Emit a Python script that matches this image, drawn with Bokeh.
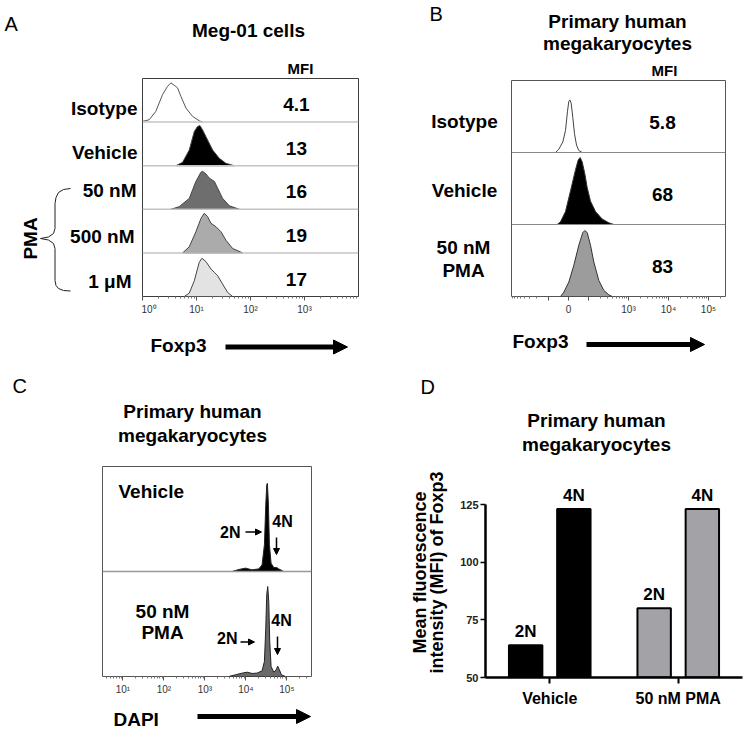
import math
from bokeh.plotting import figure
from bokeh.models import (Label, Arrow, NormalHead, Span, FixedTicker, Range1d)
from bokeh.layouts import column, row
from bokeh.core.properties import value
from bokeh.embed import file_html
from bokeh.resources import INLINE

FONT = "Liberation Sans"
MID = 0.35  # baseline -> visual middle, as a fraction of the font size

# ---------------- DATA ----------------
# Panel A (Meg-01 cells): Foxp3 histograms, x = log10 intensity, h = fraction of row height
a_rows = ["Isotype", "Vehicle", "50 nM", "500 nM", "1 μM"]
a_mfi = ["4.1", "13", "16", "19", "17"]
a_iso_x = [0.0, 0.124, 0.247, 0.371, 0.464, 0.526, 0.587, 0.649, 0.711, 0.804, 0.928, 1.051, 1.113]
a_iso_h = [0.015, 0.054, 0.246, 0.63, 0.82, 0.9, 0.846, 0.785, 0.592, 0.323, 0.13, 0.03, 0.0]
a_veh_x = [0.618, 0.742, 0.866, 0.959, 1.020, 1.064, 1.113, 1.206, 1.299, 1.422, 1.546, 1.701]
a_veh_h = [0.0, 0.077, 0.36, 0.785, 0.9, 0.92, 0.82, 0.59, 0.36, 0.17, 0.054, 0.0]
a_50_x = [0.526, 0.680, 0.866, 0.989, 1.082, 1.113, 1.175, 1.237, 1.330, 1.391, 1.484, 1.608, 1.793]
a_50_h = [0.0, 0.06, 0.25, 0.64, 0.85, 0.87, 0.81, 0.715, 0.64, 0.485, 0.25, 0.08, 0.0]
a_500_x = [0.742, 0.866, 0.989, 1.082, 1.144, 1.206, 1.268, 1.361, 1.453, 1.546, 1.670, 1.855]
a_500_h = [0.0, 0.14, 0.485, 0.79, 0.91, 0.83, 0.68, 0.6, 0.485, 0.29, 0.1, 0.0]
a_1u_x = [0.773, 0.866, 0.959, 1.051, 1.101, 1.175, 1.268, 1.330, 1.391, 1.484, 1.577, 1.670]
a_1u_h = [0.0, 0.077, 0.36, 0.785, 0.877, 0.8, 0.63, 0.554, 0.477, 0.285, 0.092, 0.0]

# Panel B (primary megakaryocytes): x = biexponential display position (decades), h = fraction of row
b_rows = ["Isotype", "Vehicle", "50 nM\nPMA"]
b_mfi = ["5.8", "68", "83"]
b_iso_x = [1.175, 1.258, 1.358, 1.425, 1.475, 1.508, 1.533, 1.567, 1.608, 1.65, 1.7, 1.758, 1.842]
b_iso_h = [0.0, 0.045, 0.148, 0.305, 0.574, 0.71, 0.73, 0.686, 0.484, 0.26, 0.103, 0.027, 0.0]
b_veh_x = [1.217, 1.3, 1.425, 1.55, 1.675, 1.742, 1.792, 1.842, 1.908, 1.967, 2.05, 2.175, 2.342, 2.508, 2.633]
b_veh_h = [0.0, 0.038, 0.18, 0.467, 0.76, 0.895, 0.93, 0.87, 0.705, 0.514, 0.324, 0.18, 0.076, 0.024, 0.0]
b_pma_x = [1.3, 1.383, 1.508, 1.633, 1.758, 1.858, 1.908, 1.967, 2.05, 2.133, 2.258, 2.383, 2.508, 2.592]
b_pma_h = [0.0, 0.06, 0.2, 0.433, 0.712, 0.888, 0.916, 0.888, 0.712, 0.479, 0.223, 0.084, 0.023, 0.0]
b_tick_pos = [1.0, 1.5, 2.0, 3.0, 4.0, 5.0]
b_tick_lab = ["", "0", "", "10³", "10⁴", "10⁵"]

# Panel C (DAPI): x = log10 intensity, h = fraction of row
c_veh_x = [3.663, 3.825, 3.988, 4.150, 4.313, 4.394, 4.451, 4.484, 4.508, 4.524, 4.549, 4.573, 4.614, 4.679, 4.75, 4.801, 4.923]
c_veh_h = [0.0, 0.019, 0.032, 0.016, 0.025, 0.063, 0.254, 0.635, 0.825, 0.84, 0.635, 0.254, 0.079, 0.038, 0.038, 0.025, 0.0]
c_pma_x = [3.581, 3.744, 3.907, 4.028, 4.150, 4.272, 4.394, 4.451, 4.484, 4.508, 4.532, 4.557, 4.581, 4.614, 4.679, 4.736, 4.776, 4.817, 4.866, 4.963]
c_pma_h = [0.0, 0.016, 0.032, 0.041, 0.029, 0.032, 0.054, 0.143, 0.46, 0.778, 0.857, 0.714, 0.333, 0.095, 0.041, 0.063, 0.098, 0.063, 0.016, 0.0]

# Panel D: MFI of Foxp3 by ploidy
d_groups = ["Vehicle", "50 nM PMA"]
d_ploidy = ["2N", "4N"]
d_vehicle = [64, 123]
d_pma = [80, 123]

# ---------------- HELPERS ----------------
def _lab(text, size, align, bold, angle):
    return dict(text=text, text_font=FONT, text_font_size=f"{size}px",
                text_font_style="bold" if bold else "normal", text_align=align,
                text_baseline="middle", angle=angle, text_color="black")

def tfig(x0, y0, x1, y1, fx=None, fy=None):
    """Plain strip for texts and arrows; data units = page pixels (y downwards)."""
    fl, fr = fx if fx else (x0, x1)
    ft, fb = fy if fy else (y0, y1)
    p = figure(width=x1 - x0, height=y1 - y0, x_range=Range1d(fl, fr), y_range=Range1d(fb, ft),
               x_axis_location=None, y_axis_location=None, output_backend="svg", toolbar_location=None,
               min_border=0, min_border_left=fl - x0, min_border_right=x1 - fr,
               min_border_top=ft - y0, min_border_bottom=y1 - fb)
    p.outline_line_color = None
    p.background_fill_color = "white"
    p.border_fill_color = "white"
    for g in p.grid:
        g.visible = False
    return p

def tput(p, wx, wy, text, size, align="left", bold=True, angle=0.0):
    """wy = text baseline (page px); for rotated text wx is the baseline."""
    if angle:
        wx = wx - MID * size
    else:
        wy = wy - MID * size
    p.add_layout(Label(x=wx, y=wy, x_units="data", y_units="data", **_lab(text, size, align, bold, angle)))

def tarrow(p, x0, y0, x1, y1, lw, head):
    p.add_layout(Arrow(x_start=x0, y_start=y0, x_end=x1, y_end=y1, line_width=lw, line_color="black",
                       end=NormalHead(size=head, fill_color="black", line_color="black", line_width=1)))

def put(p, frame, wx, wy, text, size, align="left", bold=True):
    fl, ft, fr, fb = frame
    p.add_layout(Label(x=wx - fl, y=fb - (wy - MID * size), x_units="screen", y_units="screen",
                       **_lab(text, size, align, bold, 0.0)))

def arrow(p, frame, x0, y0, x1, y1, lw, head):
    fl, ft, fr, fb = frame
    p.add_layout(Arrow(x_start=x0 - fl, y_start=fb - y0, x_end=x1 - fl, y_end=fb - y1,
                       start_units="screen", end_units="screen", line_width=lw, line_color="black",
                       end=NormalHead(size=head, fill_color="black", line_color="black", line_width=1)))

def hfig(x0, y0, x1, y1, frame, **kw):
    fl, ft, fr, fb = frame
    p = figure(width=x1 - x0, height=y1 - y0, output_backend="svg", toolbar_location=None,
               min_border_left=fl - x0, min_border_right=x1 - fr,
               min_border_top=ft - y0, min_border_bottom=y1 - fb, **kw)
    p.grid.visible = False
    p.background_fill_color = "white"
    p.border_fill_color = "white"
    return p

def style_flow_axis(ax):
    ax.axis_line_color = None
    ax.major_tick_out = 4
    ax.major_tick_in = 0
    ax.minor_tick_out = 2
    ax.minor_tick_in = 0
    ax.major_tick_line_color = "#555555"
    ax.minor_tick_line_color = "#777777"
    ax.major_label_text_font = FONT
    ax.major_label_text_font_size = "10px"
    ax.major_label_text_color = "#333333"
    ax.major_label_standoff = 3

# ---------------- PANEL A ----------------
A_FRAME = (142, 78, 358, 296)
pA = hfig(141, 77, 375, 325, A_FRAME, x_axis_type="log", x_range=Range1d(1, 10 ** 4),
          y_range=Range1d(0, 5), y_axis_location=None)
pA.outline_line_color = "#3c3c3c"
axA = pA.xaxis[0]
axA.ticker = FixedTicker(ticks=[1, 10, 100, 1000],
                         minor_ticks=[k * 10 ** d for d in range(0, 4) for k in range(2, 10)])
axA.major_label_overrides = {1: "10⁰", 10: "10¹", 100: "10²", 1000: "10³"}
style_flow_axis(axA)
for k in range(1, 5):
    pA.add_layout(Span(location=k, dimension="width", line_color="#c4c4c4", line_width=1.5))
a_hists = [(a_iso_x, a_iso_h, None), (a_veh_x, a_veh_h, "black"), (a_50_x, a_50_h, "#6e6e6e"),
           (a_500_x, a_500_h, "#ababab"), (a_1u_x, a_1u_h, "#e3e3e3")]
for i, (hx, hh, col) in enumerate(a_hists):
    base = 4 - i
    xs = [10 ** v for v in hx]
    ys = [base + v for v in hh]
    if col is None:
        pA.line(xs, ys, line_color="#555555", line_width=1)
    else:
        pA.patch(xs, ys, fill_color=col, line_color="#444444", line_width=1)
pA.text(x=[10 ** 2.85] * 5, y=[4 - i + 0.4 for i in range(5)], text=a_mfi,
        text_font=value(FONT), text_font_style="bold", text_font_size="19px",
        text_align="center", text_baseline="middle", text_color="black")

leftA = tfig(0, 0, 141, 368)
for t, lx, ly in zip(a_rows, [137, 137, 136, 134, 131], [115, 158.3, 196.7, 242.7, 287.7]):
    tput(leftA, lx, ly, t, 19, align="right")
tput(leftA, 4, 30, "A", 20, bold=False)
leftA.add_layout(Label(x=30, y=238, text="PMA", text_font=FONT, text_font_size="19px",
                       text_font_style="bold", text_align="center", text_baseline="middle",
                       angle=math.pi / 2, text_color="black"))
brace = [(70, 188), (63, 189), (58, 192), (55.5, 197), (54.5, 203), (54.5, 228), (53, 233),
         (48, 236.5), (40, 238), (48, 239.5), (53, 243), (54.5, 248), (54.5, 280), (55.5, 285),
         (58, 288), (63, 290), (70, 290.5)]
leftA.line([x for x, _ in brace], [y for _, y in brace], line_color="#222222", line_width=1)

topA = tfig(141, 0, 375, 77, fx=(142, 358))
tput(topA, 248, 37, "Meg-01 cells", 19, align="center")
tput(topA, 300, 73, "MFI", 15, align="center")
botA = tfig(141, 325, 375, 368, fx=(142, 358))
tput(botA, 150, 352, "Foxp3", 19)
tarrow(botA, 225, 346.5, 347, 346.5, 5, 14)
panelA = row(leftA, column(topA, pA, botA))

# ---------------- PANEL B ----------------
B_FRAME = (511, 80, 725, 296)
pB = hfig(510, 79, 750, 325, B_FRAME, x_range=Range1d(0.075, 5.425), y_range=Range1d(0, 3),
          y_axis_location=None)
pB.outline_line_color = "#555555"
axB = pB.xaxis[0]
b_minor = [0.1, 0.15, 0.22, 0.3, 0.4, 0.52, 0.7] + \
          [d + math.log10(k) for d in (2, 3, 4) for k in range(2, 10)] + [5 + math.log10(2)]
axB.ticker = FixedTicker(ticks=b_tick_pos, minor_ticks=b_minor)
axB.major_label_overrides = dict(zip(b_tick_pos, b_tick_lab))
style_flow_axis(axB)
for k in (1, 2):
    pB.add_layout(Span(location=k, dimension="width", line_color="#8a8a8a", line_width=1))
b_hists = [(b_iso_x, b_iso_h, None), (b_veh_x, b_veh_h, "black"), (b_pma_x, b_pma_h, "#9c9c9c")]
for i, (hx, hh, col) in enumerate(b_hists):
    base = 2 - i
    ys = [base + v for v in hh]
    if col is None:
        pB.line(hx, ys, line_color="#444444", line_width=1)
    else:
        pB.patch(hx, ys, fill_color=col, line_color="#333333", line_width=1)
pB.text(x=[3.85] * 3, y=[2 - i + 0.42 for i in range(3)], text=b_mfi,
        text_font=value(FONT), text_font_style="bold", text_font_size="19px",
        text_align="center", text_baseline="middle", text_color="black")

leftB = tfig(375, 0, 510, 368)
tput(leftB, 429, 20, "B", 20, bold=False)
tput(leftB, 464, 128, b_rows[0], 19, align="center")
tput(leftB, 464, 197, b_rows[1], 19, align="center")
l1, l2 = b_rows[2].split("\n")
tput(leftB, 463, 254, l1, 19, align="center")
tput(leftB, 463, 277, l2, 19, align="center")
topB = tfig(510, 0, 750, 79, fx=(511, 725))
tput(topB, 617, 28, "Primary human", 19, align="center")
tput(topB, 617, 50, "megakaryocytes", 19, align="center")
tput(topB, 664, 75, "MFI", 15, align="center")
botB = tfig(510, 325, 750, 368, fx=(511, 725))
tput(botB, 512, 348, "Foxp3", 19)
tarrow(botB, 586, 344, 704, 344, 5, 14)
panelB = row(leftB, column(topB, pB, botB))

# ---------------- PANEL C ----------------
C_FRAME = (102, 466, 311, 676)
pC = hfig(101, 465, 375, 702, C_FRAME, x_axis_type="log", x_range=Range1d(10 ** 0.5, 10 ** 5.6),
          y_range=Range1d(0, 2), y_axis_location=None)
pC.outline_line_color = "#555555"
axC = pC.xaxis[0]
axC.ticker = FixedTicker(ticks=[10, 100, 1000, 10000, 100000],
                         minor_ticks=[k * 10 ** d for d in range(0, 6) for k in range(2, 10)])
axC.major_label_overrides = {10: "10¹", 100: "10²", 1000: "10³", 10000: "10⁴", 100000: "10⁵"}
style_flow_axis(axC)
pC.add_layout(Span(location=1, dimension="width", line_color="#999999", line_width=1.5))
for i, (hx, hh, col) in enumerate([(c_veh_x, c_veh_h, "black"), (c_pma_x, c_pma_h, "#6a6a6a")]):
    base = 1 - i
    pC.patch([10 ** v for v in hx], [base + v for v in hh], fill_color=col, line_color="#222222", line_width=1)
put(pC, C_FRAME, 118, 498, "Vehicle", 19)
put(pC, C_FRAME, 162, 618, "50 nM", 19, align="center")
put(pC, C_FRAME, 162, 638.5, "PMA", 19, align="center")
put(pC, C_FRAME, 240, 538, "2N", 16, align="right")
arrow(pC, C_FRAME, 245, 531.5, 261, 531.5, 1.5, 6)
put(pC, C_FRAME, 282, 527, "4N", 16, align="center")
arrow(pC, C_FRAME, 276, 537, 276, 554, 1.5, 6)
put(pC, C_FRAME, 237, 644, "2N", 16, align="right")
arrow(pC, C_FRAME, 240, 641.5, 254, 641.5, 1.5, 6)
put(pC, C_FRAME, 281, 626, "4N", 16, align="center")
arrow(pC, C_FRAME, 277, 636, 277, 654, 1.5, 6)

leftC = tfig(0, 368, 101, 730)
tput(leftC, 12, 392, "C", 20, bold=False)
topC = tfig(101, 368, 375, 465, fx=(102, 311))
tput(topC, 192, 418, "Primary human", 19, align="center")
tput(topC, 192, 442, "megakaryocytes", 19, align="center")
botC = tfig(101, 702, 375, 730, fx=(102, 311))
tput(botC, 113, 726, "DAPI", 19)
tarrow(botC, 197, 716, 310, 716, 5, 14)
panelC = row(leftC, column(topC, pC, botC))

# ---------------- PANEL D ----------------
D_FRAME = (485, 477, 742, 677)
px_per_unit = (677 - 504) / 75.0
pD = hfig(450, 477, 750, 730, D_FRAME, x_range=Range1d(0, 4),
          y_range=Range1d(50, 50 + (677 - 477) / px_per_unit))
pD.outline_line_color = None
centers = [1 + 2 * g for g in range(len(d_groups))]
bx, btop, bcol, blab = [], [], [], []
for g, vals, col in zip(centers, [d_vehicle, d_pma], ["black", "#a3a3a7"]):
    for j, v in enumerate(vals):
        bx.append(g + (-0.375 if j == 0 else 0.375))
        btop.append(v)
        bcol.append(col)
        blab.append(d_ploidy[j])
pD.vbar(x=bx, top=btop, bottom=50, width=0.52, fill_color=bcol, line_color="black", line_width=2)
pD.text(x=bx, y=btop, text=blab, y_offset=-14, text_font=value(FONT), text_font_style="bold",
        text_font_size="17px", text_align="center", text_baseline="middle", text_color="black")
xD = pD.xaxis[0]
xD.ticker = FixedTicker(ticks=centers)
xD.major_label_overrides = dict(zip(centers, d_groups))
xD.axis_line_width = 2.5
xD.major_tick_line_width = 2
xD.major_tick_out = 6
xD.major_tick_in = 0
xD.minor_tick_line_color = None
xD.major_label_text_font = FONT
xD.major_label_text_font_size = "16px"
xD.major_label_text_font_style = "bold"
xD.major_label_text_color = "black"
xD.major_label_standoff = 6
yD = pD.yaxis[0]
yD.ticker = FixedTicker(ticks=[50, 75, 100, 125])
yD.bounds = (50, 125)
yD.axis_line_width = 2.5
yD.major_tick_line_width = 1.5
yD.major_tick_out = 5
yD.major_tick_in = 0
yD.minor_tick_line_color = None
yD.major_label_text_font = FONT
yD.major_label_text_font_size = "11px"
yD.major_label_text_font_style = "bold"
yD.major_label_text_color = "#222222"
yD.major_label_standoff = 2

topD = tfig(450, 368, 750, 477, fx=(485, 742))
tput(topD, 596, 427, "Primary human", 19, align="center")
tput(topD, 596, 451, "megakaryocytes", 19, align="center")
leftD = tfig(375, 368, 450, 730, fy=(368, 677))
tput(leftD, 420, 393, "D", 20, bold=False)
tput(leftD, 426, 572, "Mean fluorescence", 18, align="center", angle=math.pi / 2)
tput(leftD, 443, 572, "intensity (MFI) of Foxp3", 18, align="center", angle=math.pi / 2)
panelD = row(leftD, column(topD, pD))

layout = column(row(panelA, panelB), row(panelC, panelD))
open("out.html", "w").write(file_html(layout, INLINE))
